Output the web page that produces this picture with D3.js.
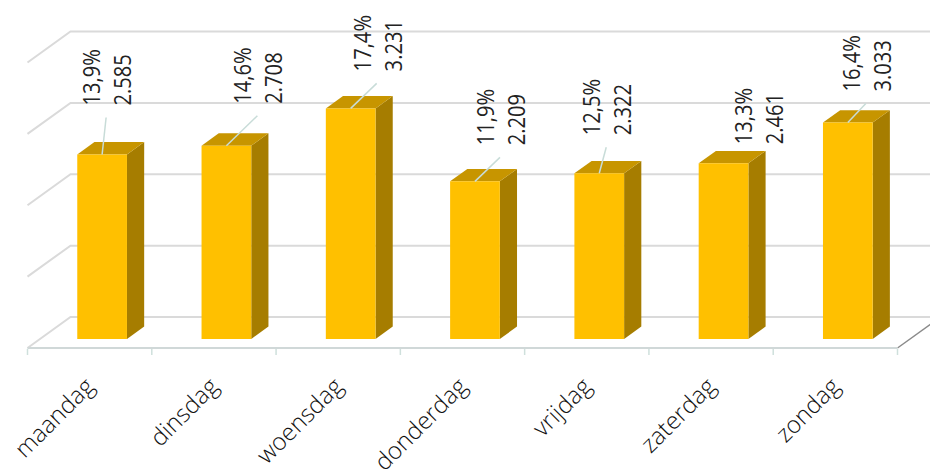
<!DOCTYPE html>
<html>
<head>
<meta charset="utf-8">
<script src="https://cdn.jsdelivr.net/npm/d3@7"></script>
<style>
  body { margin: 0; background: #fff; }
  svg { display: block; font-family: "Open Sans", "Noto Sans", sans-serif; }
</style>
</head>
<body>
<svg id="chart" width="930" height="472"></svg>
<script>
// Visits per weekday
const days = ["maandag", "dinsdag", "woensdag", "donderdag", "vrijdag", "zaterdag", "zondag"];
const visits = [2585, 2708, 3231, 2209, 2322, 2461, 3033];
const yTicks = [0, 1000, 2000, 3000, 4000];

// Offset of each value label from the top of its bar, and whether a leader line is drawn
const labelShift = [[4, -37], [31, -30], [26, -25], [25, -24], [7, -26], [34, -7], [18, -19]];
const leaderShown = [true, true, true, true, true, false, true];

const W = 930, H = 472;
const svg = d3.select("#chart");

// Oblique 3D projection: z runs 0 (front) .. 1 (back wall)
const DEPTH_X = 43, DEPTH_Y = 31;
const proj = (px, py, z) => [px + z * DEPTH_X, py - z * DEPTH_Y];
const Z_FRONT = 0.29, Z_BACK = 0.69;

const x = d3.scaleBand().domain(days).range([27.5, 897.5]).paddingInner(0.6).paddingOuter(0.3);
const y = d3.scaleLinear().domain([0, 4000]).range([348, 62.5]);

const total = d3.sum(visits);
const nl = d3.formatLocale({ decimal: ",", thousands: ".", grouping: [3], currency: ["€", ""] });
const fmtInt = nl.format(",d");
const fmtPct = nl.format(".1f");

const line = d3.line();

// Grid: side wall + back wall
const grid = svg.append("g");
yTicks.forEach(t => {
  const yy = y(t);
  grid.append("path")
    .attr("d", line([proj(x.range()[0], yy, 0), proj(x.range()[0], yy, 1), proj(W + 60, yy, 1)]))
    .attr("fill", "none").attr("stroke", "#dadada").attr("stroke-width", 2);
});

// Floor edges
const x0 = x.range()[0], x1 = x.range()[1];
svg.append("path")
  .attr("d", line([proj(x1, y(0), 0), proj(x1, y(0), 1)]))
  .attr("stroke", "#8a8a8a").attr("stroke-width", 1.5).attr("fill", "none");
svg.append("path")
  .attr("d", line([proj(x0, y(0), 0), proj(x1, y(0), 0)]))
  .attr("stroke", "#d0d8d8").attr("stroke-width", 2).attr("fill", "none");

// Ticks at category boundaries
const step = x.step();
d3.range(days.length + 1).forEach(i => {
  const tx = x0 + i * step;
  svg.append("line")
    .attr("x1", tx).attr("x2", tx).attr("y1", y(0) + 1).attr("y2", y(0) + 7)
    .attr("stroke", "#cfe0dc").attr("stroke-width", 1.5);
});

// Category labels
const xAxis = d3.axisBottom(x).tickSize(0).tickPadding(0);
const gx = svg.append("g").attr("transform", `translate(0,${y(0)})`).call(xAxis);
gx.select(".domain").remove();
gx.selectAll(".tick text")
  .attr("font-family", "Open Sans, sans-serif")
  .attr("font-weight", 300)
  .attr("font-size", 24)
  .attr("fill", "#111")
  .attr("text-anchor", "end")
  .attr("dy", 0)
  .attr("y", 0)
  .attr("transform", "translate(6,40) rotate(-45)");

// Bars as extruded boxes
const bw = x.bandwidth();
const bars = svg.append("g");
days.forEach((d, i) => {
  const left = x(d), right = x(d) + bw;
  const top = y(visits[i]), base = y(0);
  const f = (px, py, z) => proj(px, py, z);
  // side face
  bars.append("path")
    .attr("d", line([f(right, base, Z_FRONT), f(right, top, Z_FRONT), f(right, top, Z_BACK), f(right, base, Z_BACK)]) + "Z")
    .attr("fill", "#a67d00");
  // top face
  bars.append("path")
    .attr("d", line([f(left, top, Z_FRONT), f(right, top, Z_FRONT), f(right, top, Z_BACK), f(left, top, Z_BACK)]) + "Z")
    .attr("fill", "#c79500");
  // front face
  bars.append("path")
    .attr("d", line([f(left, base, Z_FRONT), f(right, base, Z_FRONT), f(right, top, Z_FRONT), f(left, top, Z_FRONT)]) + "Z")
    .attr("fill", "#ffc000");
});

// Value labels with leader lines
const labels = svg.append("g");
days.forEach((d, i) => {
  const a = proj(x(d) + bw / 2, y(visits[i]), Z_FRONT);
  const l = [a[0] + labelShift[i][0], a[1] + labelShift[i][1]];
  if (leaderShown[i]) {
    labels.append("line")
      .attr("x1", a[0]).attr("y1", a[1]).attr("x2", l[0]).attr("y2", l[1])
      .attr("stroke", "#c8dcd8").attr("stroke-width", 1.5);
  }
  const g = labels.append("g")
    .attr("transform", `translate(${l[0]},${l[1] - 12}) rotate(-90) scale(0.84,1)`);
  const t = g.append("text")
    .attr("font-size", 24).attr("font-weight", 400).attr("fill", "#222");
  t.append("tspan").attr("x", 0).attr("y", -6).text(fmtPct(visits[i] / total * 100) + "%");
  t.append("tspan").attr("x", 0).attr("y", 25).text(fmtInt(visits[i]));
});
</script>
</body>
</html>
